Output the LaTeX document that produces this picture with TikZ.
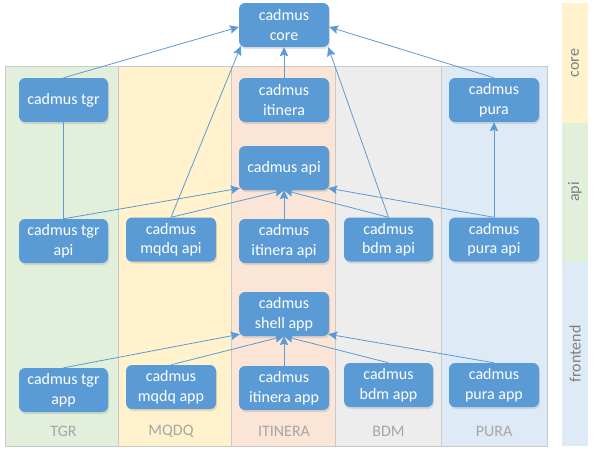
\documentclass[tikz,border=0pt]{standalone}
\usepackage{fontspec}
\setmainfont{Carlito}
\usetikzlibrary{arrows.meta,shadows}
\definecolor{nodeblue}{HTML}{5B9BD5}
\definecolor{edgeblue}{HTML}{5B9BD5}
\definecolor{cgreen}{HTML}{E2EFDA}
\definecolor{cyellow}{HTML}{FFF2CC}
\definecolor{corange}{HTML}{FBE5D6}
\definecolor{cgray}{HTML}{EDEDED}
\definecolor{cblue}{HTML}{DEEBF7}
\definecolor{bordergray}{HTML}{C9C9C9}
\definecolor{collabel}{HTML}{A6A6A6}
\definecolor{bandlabel}{HTML}{7F7F7F}
\tikzset{
  box/.style={rectangle, rounded corners=6pt, fill=nodeblue, text=white,
    minimum width=90pt, minimum height=44pt, inner sep=0pt, align=center,
    font=\fontsize{16}{19.5}\selectfont,
    drop shadow={opacity=0.22, shadow xshift=1pt, shadow yshift=-2pt}},
  col/.style={draw=bordergray, line width=0.9pt},
  collbl/.style={text=collabel, font=\fontsize{16}{19}\selectfont},
  bandlbl/.style={text=bandlabel, rotate=90, font=\fontsize{16}{19}\selectfont},
  arr/.style={draw=edgeblue, line width=0.8pt, -{Stealth[length=9pt,width=8.5pt,inset=1.5pt]}},
  plain/.style={draw=edgeblue, line width=0.8pt}
}
\begin{document}
\begin{tikzpicture}[x=1pt,y=-1pt]
\useasboundingbox (0,0) rectangle (593,455);
% right bands
\fill[cyellow] (562,3) rectangle (588,123);
\fill[cgreen] (562,123) rectangle (588,262);
\fill[cblue] (562,262) rectangle (588,446);
\node[bandlbl] (bcore) at (575,63) {core};
\node[bandlbl] (bapi) at (575,192) {api};
\node[bandlbl] (bfront) at (575,354) {frontend};
% columns
\filldraw[col, fill=cgreen] (5,66) rectangle (118,446);
\filldraw[col, fill=cyellow] (118,66) rectangle (231,446);
\filldraw[col, fill=corange] (231,66) rectangle (335,446);
\filldraw[col, fill=cgray] (335,66) rectangle (441,446);
\filldraw[col, fill=cblue] (441,66) rectangle (547,446);
\node[collbl] (lt) at (63.5,431) {TGR};
\node[collbl] (lm) at (171,431) {MQDQ};
\node[collbl] (li) at (284,431) {ITINERA};
\node[collbl] (lb) at (388.5,431) {BDM};
\node[collbl] (lp) at (494,431) {PURA};
% nodes
\node[box] (core) at (284,25) {cadmus\\core};
\node[box, minimum width=89pt] (tgr) at (63.5,100) {cadmus tgr};
\node[box] (itinera) at (284,100) {cadmus\\itinera};
\node[box] (pura) at (494,100) {cadmus\\pura};
\node[box] (api) at (284,168) {cadmus api};
\node[box, minimum width=89pt] (tgrapi) at (63.5,241) {cadmus tgr\\api};
\node[box] (mqdqapi) at (171,239.5) {cadmus\\mqdq api};
\node[box] (itineraapi) at (284,241) {cadmus\\itinera api};
\node[box, minimum width=89pt] (bdmapi) at (388.5,239.5) {cadmus\\bdm api};
\node[box] (puraapi) at (494,239.5) {cadmus\\pura api};
\node[box] (shell) at (284,314) {cadmus\\shell app};
\node[box, minimum width=89pt] (tgrapp) at (63.5,390) {cadmus tgr\\app};
\node[box] (mqdqapp) at (171,387) {cadmus\\mqdq app};
\node[box] (itineraapp) at (284,388) {cadmus\\itinera app};
\node[box, minimum width=89pt] (bdmapp) at (388.5,385) {cadmus\\bdm app};
\node[box] (puraapp) at (494,385) {cadmus\\pura app};
% edges to core
\draw[arr] (tgr.north) -- ([yshift=-2pt]core.west);
\draw[arr] (mqdqapi.north) -- ([xshift=2pt,yshift=1pt]core.south west);
\draw[arr] (itinera.north) -- (core.south);
\draw[arr] (bdmapi.north) -- ([xshift=-1pt,yshift=0pt]core.south east);
\draw[arr] (pura.north) -- ([yshift=-2pt]core.east);
\draw[plain] (tgr.south) -- (tgrapi.north);
\draw[arr] (puraapi.north) -- (pura.south);
% edges to api
\draw[arr] (tgrapi.north) -- ([xshift=1pt,yshift=2pt]api.south west);
\draw[arr] (mqdqapi.north) -- (api.south);
\draw[arr] (itineraapi.north) -- (api.south);
\draw[arr] (bdmapi.north) -- (api.south);
\draw[arr] (puraapi.north) -- ([xshift=-1pt,yshift=2pt]api.south east);
% edges to shell
\draw[arr] (tgrapp.north) -- ([xshift=1pt,yshift=2pt]shell.south west);
\draw[arr] (mqdqapp.north) -- (shell.south);
\draw[arr] (itineraapp.north) -- (shell.south);
\draw[arr] (bdmapp.north) -- (shell.south);
\draw[arr] (puraapp.north) -- ([xshift=-1pt,yshift=2pt]shell.south east);
\end{tikzpicture}
\end{document}
